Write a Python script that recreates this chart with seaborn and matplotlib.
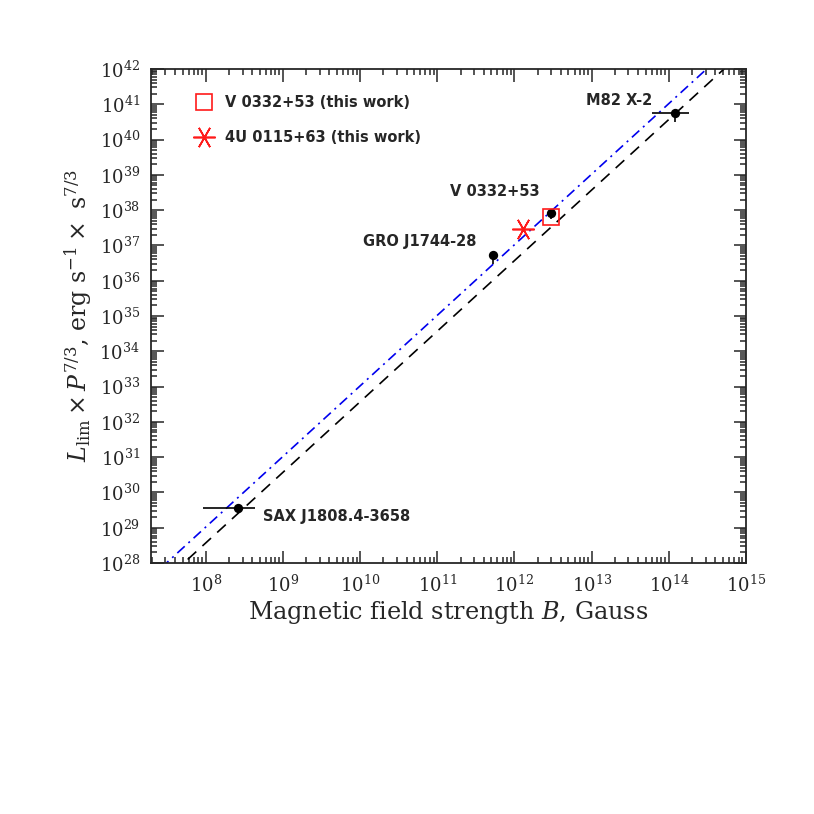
import numpy as np
import pandas as pd
import matplotlib
matplotlib.use('Agg')
import matplotlib.pyplot as plt
import seaborn as sns
from matplotlib.ticker import LogLocator, FixedLocator, NullFormatter

# ── Data ────────────────────────────────────────────────────────────────────
SRC_NAMES = ['SAX J1808.4-3658', 'GRO J1744-28', 'V 0332+53', 'M82 X-2']
SRC_B     = [2.6e8, 5.3e11, 3.0e12, 1.2e14]
SRC_L     = [3.6e29, 5.3e36, 8.3e37, 5.5e40]
SRC_B_LO  = [9.3e7, 5.3e11, 3.0e12, 6.0e13]
SRC_B_HI  = [4.3e8, 5.3e11, 3.0e12, 1.8e14]
SRC_L_LO  = [2.6e29, 3.0e36, 5.6e37, 3.2e40]
SRC_L_HI  = [3.6e29, 6.3e36, 8.3e37, 7.4e40]
# label offsets in pixels relative to each point
LBL_DX    = [25, -17, -12, -23]
LBL_DY    = [-8, 14, 21, 13]
LBL_HA    = ['left', 'right', 'right', 'right']

THIS_NAMES = ['V 0332+53 (this work)', '4U 0115+63 (this work)']
THIS_B     = [3.0e12, 1.3e12]
THIS_L     = [6.5e37, 2.9e37]

# L P^{7/3} ~ B^2 relations (end points)
LINE_B      = [1e7, 1e15]
LINE_BLUE   = [10**27.02, 10**43.02]
LINE_DASHED = [10**26.57, 10**42.57]

X_DECADES = [1e8, 1e9, 1e10, 1e11, 1e12, 1e13, 1e14, 1e15]

# ── Style ───────────────────────────────────────────────────────────────────
sns.set_style('ticks')
plt.rcParams['font.family'] = ['DejaVu Serif']
plt.rcParams['mathtext.fontset'] = 'dejavuserif'
plt.rcParams['axes.linewidth'] = 1.3

LABEL_FONT = {'family': 'DejaVu Sans', 'weight': 'bold', 'size': 10.5}

fig = plt.figure(figsize=(8.14, 8.14), dpi=100)
ax = fig.add_axes([151/814, 1 - 563/814, 595/814, 494/814])

lines_df = pd.DataFrame({'B': LINE_B * 2,
                         'L': LINE_BLUE + LINE_DASHED,
                         'rel': ['blue'] * 2 + ['dashed'] * 2})
sns.lineplot(data=lines_df[lines_df.rel == 'blue'], x='B', y='L', ax=ax,
             color='#0000ee', lw=1.2, estimator=None)
ax.lines[-1].set_dashes([6, 3, 1.2, 3])
sns.lineplot(data=lines_df[lines_df.rel == 'dashed'], x='B', y='L', ax=ax,
             color='black', lw=1.2, estimator=None)
ax.lines[-1].set_dashes([7, 5])

src = pd.DataFrame({'name': SRC_NAMES, 'B': SRC_B, 'L': SRC_L})
b = np.array(SRC_B); l = np.array(SRC_L)
ax.errorbar(b, l,
            xerr=[b - np.array(SRC_B_LO), np.array(SRC_B_HI) - b],
            yerr=[l - np.array(SRC_L_LO), np.array(SRC_L_HI) - l],
            fmt='none', ecolor='black', elinewidth=1.2, capsize=0, zorder=3)
sns.scatterplot(data=src, x='B', y='L', ax=ax, color='black', s=45,
                edgecolor='black', linewidth=0, zorder=4)

ax.plot(THIS_B[0], THIS_L[0], ls='none', marker='s', ms=12, mfc='none',
        mec='#ff1a1a', mew=1.2, zorder=5, label=THIS_NAMES[0])
ax.plot(THIS_B[1], THIS_L[1], ls='none', marker=(6, 2, 90), ms=16,
        mec='#ff1a1a', mew=1.2, zorder=5, label=THIS_NAMES[1])

for name, x, y, dx, dy, ha in zip(SRC_NAMES, SRC_B, SRC_L, LBL_DX, LBL_DY, LBL_HA):
    ax.annotate(name, (x, y), xytext=(dx, dy), textcoords='offset pixels',
                ha=ha, va='center', **LABEL_FONT)

leg = ax.legend(loc='upper left', bbox_to_anchor=(0.075, 0.947), frameon=False,
                borderpad=0, borderaxespad=0, handlelength=1.2,
                handletextpad=0.8, labelspacing=1.35, prop=LABEL_FONT)

ax.set_xscale('log')
ax.set_yscale('log')
ax.set_xlim(10**7.29, 1e15)
ax.set_ylim(1e28, 1e42)

ax.xaxis.set_major_locator(FixedLocator(X_DECADES))
ax.yaxis.set_major_locator(LogLocator(base=10, numticks=30))
for axis in (ax.xaxis, ax.yaxis):
    axis.set_minor_locator(LogLocator(base=10, subs=np.arange(2, 10), numticks=40))
    axis.set_minor_formatter(NullFormatter())
ax.set_xticklabels([f'$10^{{{int(np.log10(v))}}}$' for v in X_DECADES])

ax.tick_params(which='both', direction='in', top=True, right=True,
               width=1.1, labelsize=13)
ax.tick_params(which='major', length=9, pad=8)
ax.tick_params(which='minor', length=4.5)

ax.set_xlabel('Magnetic field strength $B$, Gauss', fontsize=17.2, labelpad=3)
ax.set_ylabel(r'$L_{\rm lim}\times P^{7/3}$, erg s$^{-1}\times$ s$^{7/3}$',
              fontsize=17, labelpad=4)

plt.savefig('out.png', dpi=100, facecolor='white')
plt.close()
